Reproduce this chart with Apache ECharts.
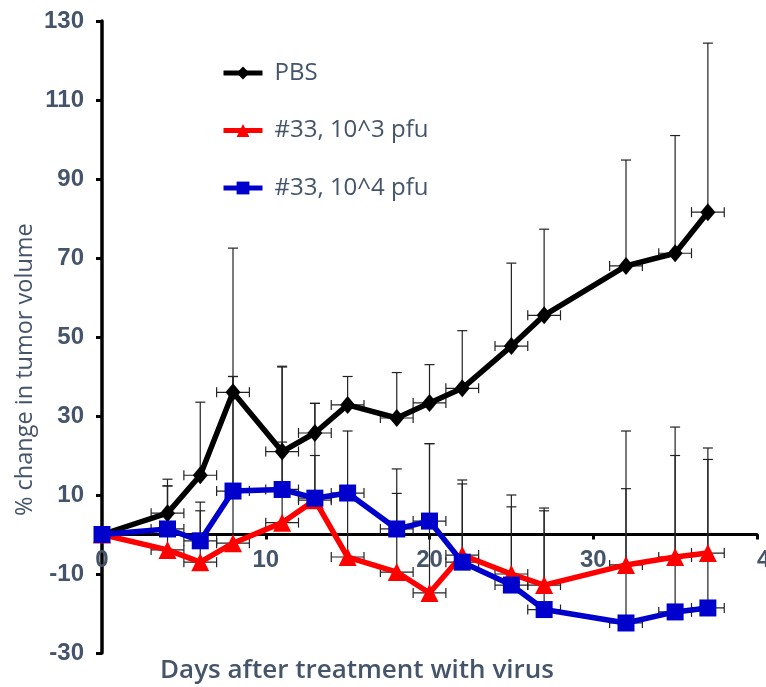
<!DOCTYPE html>
<html>
<head>
<meta charset="utf-8">
<script src="https://cdn.jsdelivr.net/npm/echarts@6/dist/echarts.min.js"></script>
<style>html,body{margin:0;padding:0;background:#fff}#c{width:766px;height:687px}</style>
</head>
<body>
<div id="c"></div>
<script>
const days = [0, 4, 6, 8, 11, 13, 15, 18, 20, 22, 25, 27, 32, 35, 37];
const pbs = [0, 5.4, 15, 36, 21, 25.7, 32.8, 29.5, 33.3, 37, 47.7, 55.5, 68, 71.2, 81.6];
const pbsUpper = [null, 14, 33.5, 72.5, 42.6, 33.2, 40, 41, 43, 51.6, 68.7, 77.3, 94.8, 101, 124.4];
const low = [0, -3.9, -7, -2.2, 3, 8.7, -5.7, -9.5, -14.8, -5.2, -10, -12.8, -7.7, -5.7, -4.7];
const lowUpper = [null, 12.3, 6, 40, 23.4, 20, 10, 10.4, 23, 12.8, 7, 6, 11.6, 20, 19];
const high = [0, 1.4, -1.6, 11, 11.4, 9.2, 10.5, 1.4, 3.4, -7, -12.8, -19, -22.4, -19.6, -18.6];
const highUpper = [null, 12.3, 8.2, 40, 42.4, 33.2, 26.2, 16.6, 23, 13.8, 10, 6.7, 26.2, 27.2, 21.9];
const xErr = 1;
const names = ['PBS', '#33, 10^3 pfu', '#33, 10^4 pfu'];
const yTicks = [-30, -10, 10, 30, 50, 70, 90, 110, 130];
const xTicks = [0, 10, 20, 30, 40];

const TXT = '#44546A';
const pairs = (ys) => days.map((d, i) => [d, ys[i]]);
const errData = (ys, ups) => days.map((d, i) => [d, ys[i], ups[i]]).filter(r => r[2] !== null);

function errRender(params, api) {
  const x = api.value(0), y = api.value(1), up = api.value(2);
  const p = api.coord([x, y]);
  const pu = api.coord([x, up]);
  const pl = api.coord([x - xErr, y]);
  const pr = api.coord([x + xErr, y]);
  const cap = 5;
  const st = { stroke: '#222', lineWidth: 1.2 };
  const seg = (x1, y1, x2, y2) => ({ type: 'line', shape: { x1, y1, x2, y2 }, style: st });
  return {
    type: 'group',
    children: [
      seg(p[0], p[1], pu[0], pu[1]),
      seg(pu[0] - cap, pu[1], pu[0] + cap, pu[1]),
      seg(pl[0], pl[1], pr[0], pr[1]),
      seg(pl[0], pl[1] - cap, pl[0], pl[1] + cap),
      seg(pr[0], pr[1] - cap, pr[0], pr[1] + cap)
    ]
  };
}

const gridTop = 21, gridBottom = 34, H = 687;
const plotH = H - gridTop - gridBottom;
const yMin = yTicks[0], yMax = yTicks[yTicks.length - 1];
const zeroOffset = -plotH * (0 - yMin) / (yMax - yMin);

const chart = echarts.init(document.getElementById('c'));
chart.setOption({
  animation: false,
  backgroundColor: '#fff',
  grid: { left: 102, right: 9, top: gridTop, bottom: gridBottom, containLabel: false, outerBoundsMode: 'none' },
  legend: {
    data: names,
    orient: 'vertical',
    left: 221,
    top: 61,
    padding: 0,
    itemWidth: 39,
    itemHeight: 16,
    itemGap: 33.5,
    lineStyle: { width: 5 },
    textStyle: { color: TXT, fontSize: 24, lineHeight: 24, fontFamily: 'Open Sans', padding: [0, 0, 0, 7] }
  },
  xAxis: {
    type: 'value',
    min: xTicks[0],
    max: xTicks[xTicks.length - 1],
    interval: 10,
    offset: zeroOffset,
    axisLine: { onZero: false, lineStyle: { color: '#000', width: 3 } },
    axisTick: { show: true, length: 5, lineStyle: { color: '#000', width: 3 } },
    axisLabel: { margin: 14, color: TXT, fontSize: 24, fontWeight: 'bold', fontFamily: 'Liberation Sans', alignMaxLabel: 'left' },
    splitLine: { show: false }
  },
  yAxis: {
    type: 'value',
    min: yMin,
    max: yMax,
    interval: 20,
    axisLine: { show: true, onZero: false, lineStyle: { color: '#000', width: 3.5 } },
    axisTick: { show: true, length: 6, lineStyle: { color: '#000', width: 3 } },
    axisLabel: { margin: 18, color: TXT, fontSize: 24, fontWeight: 'bold', fontFamily: 'Liberation Sans' },
    splitLine: { show: false }
  },
  graphic: [
    { type: 'text', left: 160, top: 658, style: { text: 'Days after treatment with virus', fill: TXT, font: '600 26px "Open Sans"' } },
    { type: 'text', x: 13, y: 516, rotation: Math.PI / 2, style: { text: '% change in tumor volume', fill: TXT, font: '23.5px "Open Sans"', textVerticalAlign: 'top' } }
  ],
  series: [
    { type: 'custom', renderItem: errRender, data: errData(pbs, pbsUpper), z: 1, encode: { x: 0, y: [1, 2] } },
    { type: 'custom', renderItem: errRender, data: errData(low, lowUpper), z: 1, encode: { x: 0, y: [1, 2] } },
    { type: 'custom', renderItem: errRender, data: errData(high, highUpper), z: 1, encode: { x: 0, y: [1, 2] } },
    { name: names[0], type: 'line', data: pairs(pbs), symbol: 'diamond', symbolSize: [15, 18], z: 3,
      lineStyle: { color: '#000', width: 5.5 }, itemStyle: { color: '#000' } },
    { name: names[1], type: 'line', data: pairs(low), symbol: 'triangle', symbolSize: 18, z: 4,
      lineStyle: { color: '#FF0000', width: 5.5 }, itemStyle: { color: '#FF0000' } },
    { name: names[2], type: 'line', data: pairs(high), symbol: 'rect', symbolSize: 17, z: 5,
      lineStyle: { color: '#0000CC', width: 5.5 }, itemStyle: { color: '#0000CC' } }
  ]
});
</script>
</body>
</html>
